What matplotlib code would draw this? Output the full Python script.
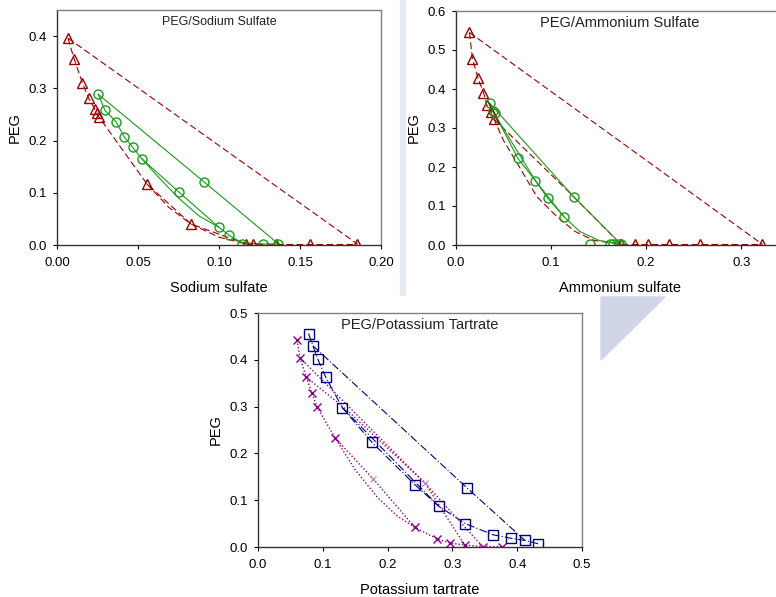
import numpy as np
import matplotlib
matplotlib.use('Agg')
import matplotlib.pyplot as plt
from matplotlib.patches import Polygon, Rectangle

plt.rcParams['font.family'] = ['Liberation Sans', 'DejaVu Sans']

red = '#990000'
green = '#1a9a1a'
navy = '#000080'
purple = '#8a008a'

# ---- PEG / Sodium sulfate ----
na_tri_x = [0.0068, 0.0105, 0.0156, 0.0195, 0.0234, 0.0247, 0.0257, 0.0555, 0.0828,
            0.1168, 0.1207, 0.1353, 0.1562, 0.1854]
na_tri_y = [0.396, 0.357, 0.311, 0.281, 0.260, 0.252, 0.246, 0.117, 0.040,
            0.002, 0.002, 0.002, 0.002, 0.002]
na_red_curve_x = [0.0068, 0.0105, 0.0156, 0.0195, 0.0234, 0.0247, 0.0257, 0.0555, 0.0828, 0.1168]
na_red_curve_y = [0.396, 0.357, 0.311, 0.281, 0.260, 0.252, 0.246, 0.117, 0.040, 0.002]
na_red_fit_x = [0.0555, 0.069, 0.0828, 0.100, 0.1168]
na_red_fit_y = [0.117, 0.072, 0.040, 0.015, 0.002]
na_red_tie_x = [0.0068, 0.1854]
na_red_tie_y = [0.396, 0.002]

na_cir_x = [0.0255, 0.0296, 0.0364, 0.0415, 0.0467, 0.0524, 0.075, 0.0909, 0.0999,
            0.106, 0.1145, 0.1274, 0.1367]
na_cir_y = [0.2885, 0.258, 0.236, 0.207, 0.187, 0.165, 0.102, 0.1205, 0.034,
            0.019, 0.002, 0.002, 0.002]
na_grn_curve_x = [0.0255, 0.0296, 0.0364, 0.0415, 0.0467, 0.0524, 0.062, 0.075, 0.088,
                  0.0999, 0.106, 0.1145, 0.1274, 0.1367]
na_grn_curve_y = [0.2885, 0.258, 0.236, 0.207, 0.187, 0.165, 0.132, 0.090, 0.055,
                  0.034, 0.019, 0.004, 0.002, 0.002]
na_grn_tie1_x = [0.0255, 0.0909, 0.1367]
na_grn_tie1_y = [0.2885, 0.1205, 0.002]
na_grn_tie2_x = [0.0524, 0.075, 0.0999]
na_grn_tie2_y = [0.165, 0.102, 0.034]

# ---- PEG / Ammonium sulfate ----
am_tri_x = [0.0141, 0.0173, 0.0232, 0.0289, 0.0324, 0.0363, 0.0398,
            0.1734, 0.188, 0.2024, 0.2242, 0.2568, 0.3221]
am_tri_y = [0.545, 0.478, 0.427, 0.391, 0.359, 0.342, 0.323,
            0.002, 0.002, 0.002, 0.002, 0.002, 0.002]
am_red_curve_x = [0.0141, 0.0173, 0.0232, 0.0289, 0.0324, 0.0363, 0.0398, 0.050, 0.0674,
                  0.085, 0.106, 0.125, 0.145, 0.1734]
am_red_curve_y = [0.545, 0.478, 0.427, 0.391, 0.359, 0.342, 0.323, 0.268, 0.197,
                  0.124, 0.073, 0.035, 0.012, 0.002]
am_red_tie1_x = [0.0141, 0.3221]
am_red_tie1_y = [0.545, 0.002]
am_red_tie2_x = [0.0398, 0.120, 0.1734]
am_red_tie2_y = [0.323, 0.133, 0.002]

am_cir_x = [0.0356, 0.0384, 0.0405, 0.0651, 0.0835, 0.0965, 0.1134, 0.1236,
            0.1405, 0.1616, 0.1655, 0.1715, 0.1736]
am_cir_y = [0.363, 0.344, 0.338, 0.222, 0.165, 0.120, 0.073, 0.124,
            0.002, 0.002, 0.002, 0.002, 0.002]
am_grn_curve_x = [0.0356, 0.0405, 0.0651, 0.0835, 0.0965, 0.1134, 0.130, 0.150, 0.1736]
am_grn_curve_y = [0.363, 0.338, 0.222, 0.165, 0.120, 0.073, 0.035, 0.012, 0.002]
am_grn_tie1_x = [0.0356, 0.1236, 0.1736]
am_grn_tie1_y = [0.363, 0.124, 0.002]
am_grn_tie2_x = [0.0384, 0.0835, 0.1134]
am_grn_tie2_y = [0.344, 0.165, 0.073]

# ---- PEG / Potassium tartrate ----
kt_sq_x = [0.078, 0.0847, 0.0924, 0.1042, 0.130, 0.1756, 0.243, 0.279, 0.320,
           0.363, 0.391, 0.412, 0.432, 0.322]
kt_sq_y = [0.456, 0.430, 0.401, 0.364, 0.298, 0.224, 0.132, 0.087, 0.050,
           0.026, 0.0185, 0.014, 0.007, 0.127]
kt_blu_curve_x = kt_sq_x[:13]
kt_blu_curve_y = kt_sq_y[:13]
kt_blu_tie1_x = [0.0847, 0.322, 0.412]
kt_blu_tie1_y = [0.430, 0.127, 0.014]
kt_blu_tie2_x = [0.130, 0.279]
kt_blu_tie2_y = [0.298, 0.087]

kt_x_x = [0.060, 0.065, 0.0744, 0.0832, 0.0909, 0.119, 0.242, 0.277, 0.297,
          0.319, 0.3465, 0.377]
kt_x_y = [0.442, 0.404, 0.363, 0.329, 0.300, 0.233, 0.042, 0.017, 0.0085,
          0.004, 0.001, 0.001]
kt_feed_x = [0.178, 0.258]
kt_feed_y = [0.145, 0.136]
kt_pur_curve_x = [0.060, 0.065, 0.0744, 0.0832, 0.0909, 0.119, 0.150, 0.185, 0.215,
                  0.242, 0.277, 0.297, 0.319, 0.3465, 0.377]
kt_pur_curve_y = [0.442, 0.404, 0.363, 0.329, 0.300, 0.233, 0.165, 0.105, 0.066,
                  0.042, 0.017, 0.0085, 0.004, 0.001, 0.001]
kt_pur_tie1_x = [0.065, 0.258, 0.3465]
kt_pur_tie1_y = [0.404, 0.136, 0.001]
kt_pur_tie2_x = [0.0744, 0.137, 0.258, 0.319]
kt_pur_tie2_y = [0.363, 0.293, 0.136, 0.004]
kt_pur_tie3_x = [0.119, 0.178, 0.242]
kt_pur_tie3_y = [0.233, 0.145, 0.042]

fig = plt.figure(figsize=(7.76, 5.97), dpi=100)

# faint watermark shapes behind everything
fig.add_artist(Rectangle((400 / 776, 1 - 295 / 597), 5 / 776, 295 / 597,
                         transform=fig.transFigure, color='#e6eaf2', zorder=0))
fig.add_artist(Polygon([[601 / 776, 1 - 297 / 597], [665 / 776, 1 - 297 / 597],
                        [601 / 776, 1 - 360 / 597]],
                       transform=fig.transFigure, color='#d0d6e6', zorder=0))

ax1 = fig.add_axes([57 / 776, 1 - 245 / 597, 324 / 776, 235 / 597])
ax2 = fig.add_axes([456 / 776, 1 - 245 / 597, 328 / 776, 234 / 597])
ax3 = fig.add_axes([258 / 776, 1 - 547 / 597, 324 / 776, 234 / 597])

lw = 0.8
dash = (0, (6, 3))

def style(ax, xlim, ylim, xticks, yticks, xfmt, yfmt, xlabel, title, tsize):
    ax.set_xlim(*xlim)
    ax.set_ylim(*ylim)
    ax.set_xticks(xticks)
    ax.set_yticks(yticks)
    ax.set_xticklabels([xfmt % v for v in xticks])
    ax.set_yticklabels([yfmt % v for v in yticks])
    ax.tick_params(direction='out', length=3, labelsize=9.5, pad=4)
    ax.tick_params(axis='x', pad=6)
    ax.set_xlabel(xlabel, fontsize=10.5, labelpad=8)
    ax.set_ylabel('PEG', fontsize=10.5, labelpad=5)
    ax.text(0.5, 0.948, title, transform=ax.transAxes, ha='center', va='center',
            fontsize=tsize, color='#222222')
    for s in ['top', 'right']:
        ax.spines[s].set_color('#808080')
    for s in ['left', 'bottom']:
        ax.spines[s].set_color('#333333')
    for s in ax.spines.values():
        s.set_linewidth(1.0)

# sodium sulfate
ax1.plot(na_red_curve_x, na_red_curve_y, color=red, lw=lw, ls=dash)
ax1.plot(na_red_fit_x, na_red_fit_y, color=red, lw=lw, ls=dash)
ax1.plot(na_red_tie_x, na_red_tie_y, color=red, lw=lw, ls=dash)
ax1.plot([0.1168, 0.1854], [0.002, 0.002], color=red, lw=lw, ls=dash)
ax1.plot(na_grn_curve_x, na_grn_curve_y, color=green, lw=lw)
ax1.plot(na_grn_tie1_x, na_grn_tie1_y, color=green, lw=lw)
ax1.plot(na_grn_tie2_x, na_grn_tie2_y, color=green, lw=lw)
ax1.plot(na_tri_x, na_tri_y, ls='none', marker='^', ms=7, mfc='none', mec=red, mew=1.0)
ax1.plot(na_cir_x, na_cir_y, ls='none', marker='o', ms=6.5, mfc='none', mec=green, mew=1.0)
style(ax1, (0, 0.2), (0, 0.45), [0, 0.05, 0.10, 0.15, 0.20], [0, 0.1, 0.2, 0.3, 0.4],
      '%.2f', '%.1f', 'Sodium sulfate', 'PEG/Sodium Sulfate', 9)

# ammonium sulfate
ax2.plot(am_red_curve_x, am_red_curve_y, color=red, lw=lw, ls=dash)
ax2.plot(am_red_tie1_x, am_red_tie1_y, color=red, lw=lw, ls=dash)
ax2.plot(am_red_tie2_x, am_red_tie2_y, color=red, lw=lw, ls=dash)
ax2.plot([0.1734, 0.3221], [0.002, 0.002], color=red, lw=lw, ls=dash)
ax2.plot(am_grn_curve_x, am_grn_curve_y, color=green, lw=lw)
ax2.plot(am_grn_tie1_x, am_grn_tie1_y, color=green, lw=lw)
ax2.plot(am_grn_tie2_x, am_grn_tie2_y, color=green, lw=lw)
ax2.plot(am_tri_x, am_tri_y, ls='none', marker='^', ms=7, mfc='none', mec=red, mew=1.0)
ax2.plot(am_cir_x, am_cir_y, ls='none', marker='o', ms=6.5, mfc='none', mec=green, mew=1.0)
style(ax2, (0, 0.345), (0, 0.6), [0, 0.1, 0.2, 0.3], [0, 0.1, 0.2, 0.3, 0.4, 0.5, 0.6],
      '%.1f', '%.1f', 'Ammonium sulfate', 'PEG/Ammonium Sulfate', 10.5)

# potassium tartrate
dashdot = (0, (7, 2, 1, 2))
dotted = (0, (1, 1.5))
ax3.plot(kt_blu_curve_x, kt_blu_curve_y, color=navy, lw=lw, ls=dashdot)
ax3.plot(kt_blu_tie1_x, kt_blu_tie1_y, color=navy, lw=lw, ls=dashdot)
ax3.plot(kt_blu_tie2_x, kt_blu_tie2_y, color=navy, lw=lw, ls=dashdot)
ax3.plot(kt_pur_curve_x, kt_pur_curve_y, color=purple, lw=1.0, ls=dotted)
ax3.plot(kt_pur_tie1_x, kt_pur_tie1_y, color=purple, lw=1.0, ls=dotted)
ax3.plot(kt_pur_tie2_x, kt_pur_tie2_y, color=purple, lw=1.0, ls=dotted)
ax3.plot(kt_pur_tie3_x, kt_pur_tie3_y, color=purple, lw=1.0, ls=dotted)
ax3.plot(kt_sq_x, kt_sq_y, ls='none', marker='s', ms=6.5, mfc='none', mec=navy, mew=1.0)
ax3.plot(kt_x_x, kt_x_y, ls='none', marker='x', ms=6, mec=purple, mew=1.0)
ax3.plot(kt_feed_x, kt_feed_y, ls='none', marker='x', ms=5, mec='#c080c0', mew=0.8)
style(ax3, (0, 0.5), (0, 0.5), [0, 0.1, 0.2, 0.3, 0.4, 0.5], [0, 0.1, 0.2, 0.3, 0.4, 0.5],
      '%.1f', '%.1f', 'Potassium tartrate', 'PEG/Potassium Tartrate', 10.5)

fig.savefig('out.png', dpi=100)
